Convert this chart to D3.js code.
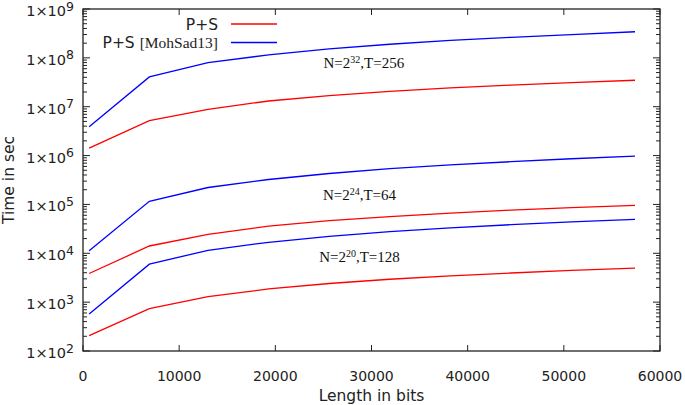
<!DOCTYPE html>
<html>
<head>
<meta charset="utf-8">
<script src="https://cdn.jsdelivr.net/npm/d3@7"></script>
<style>
  html, body { margin: 0; padding: 0; background: #fff; }
  svg { display: block; }
</style>
</head>
<body>
<svg id="chart" width="685" height="405"></svg>
<script>
// ---- data ----
const lengths = [640, 6900, 13000, 19300, 25600, 31900, 38200, 44500, 50800, 57400];

const ps32     = [1.42e6, 5.19e6, 8.85e6, 1.31e7, 1.69e7, 2.06e7, 2.42e7, 2.77e7, 3.12e7, 3.48e7];
const moh32    = [3.9e6, 4.07e7, 8.0e7, 1.15e8, 1.52e8, 1.9e8, 2.27e8, 2.63e8, 3.0e8, 3.42e8];
const ps24     = [3.86e3, 1.41e4, 2.45e4, 3.58e4, 4.64e4, 5.65e4, 6.65e4, 7.64e4, 8.6e4, 9.6e4];
const moh24    = [1.13e4, 1.16e5, 2.22e5, 3.24e5, 4.3e5, 5.4e5, 6.45e5, 7.5e5, 8.6e5, 9.7e5];
const ps20     = [206, 738, 1.3e3, 1.86e3, 2.41e3, 2.94e3, 3.45e3, 3.95e3, 4.46e3, 4.98e3];
const moh20    = [574, 6.0e3, 1.15e4, 1.68e4, 2.22e4, 2.77e4, 3.3e4, 3.85e4, 4.4e4, 4.95e4];

const xTicks = [0, 10000, 20000, 30000, 40000, 50000, 60000];
const yTickExps = [2, 3, 4, 5, 6, 7, 8, 9];

const seriesNames = ["P+S", "P+S [MohSad13]"];
const annotations = [
  {x: 29200, y: 6.2e7, base: "N=2", sup: "32", rest: ",T=256"},
  {x: 28750, y: 1.24e5, base: "N=2", sup: "24", rest: ",T=64"},
  {x: 28750, y: 6.7e3, base: "N=2", sup: "20", rest: ",T=128"}
];

// ---- layout ----
const L = 83, R = 660, T = 9, B = 351;
const RED = "#ff0000", BLUE = "#0000ff", INK = "#222";
const SANS = "'DejaVu Sans', sans-serif";
const SERIF = "'Liberation Serif', 'Times New Roman', serif";

const svg = d3.select("#chart");
const x = d3.scaleLinear().domain([0, 60000]).range([L, R]);
const y = d3.scaleLog().domain([1e2, 1e9]).range([B, T]);

// ---- ticks (inward, mirrored) ----
const tg = svg.append("g").attr("stroke", INK).attr("stroke-width", 1);
xTicks.forEach(v => {
  const px = x(v);
  tg.append("line").attr("x1", px).attr("x2", px).attr("y1", B).attr("y2", B - 6);
  tg.append("line").attr("x1", px).attr("x2", px).attr("y1", T).attr("y2", T + 6);
});
yTickExps.forEach(e => {
  const py = y(Math.pow(10, e));
  tg.append("line").attr("x1", L).attr("x2", L + 7).attr("y1", py).attr("y2", py);
  tg.append("line").attr("x1", R).attr("x2", R - 7).attr("y1", py).attr("y2", py);
  if (e < 9) {
    for (let m = 2; m <= 9; m++) {
      const pm = y(m * Math.pow(10, e));
      tg.append("line").attr("x1", L).attr("x2", L + 4).attr("y1", pm).attr("y2", pm);
      tg.append("line").attr("x1", R).attr("x2", R - 4).attr("y1", pm).attr("y2", pm);
    }
  }
});

// ---- tick labels ----
xTicks.forEach(v => {
  svg.append("text").attr("x", x(v)).attr("y", B + 30)
    .attr("text-anchor", "middle").attr("font-family", SANS).attr("font-size", 14)
    .attr("fill", INK).text(v);
});
yTickExps.forEach(e => {
  const t = svg.append("text").attr("x", L - 9).attr("y", y(Math.pow(10, e)) + 7)
    .attr("text-anchor", "end").attr("font-family", SANS).attr("font-size", 14.5)
    .attr("fill", INK);
  t.append("tspan").text("1×10");
  t.append("tspan").attr("dy", -5.5).attr("font-size", 12.5).text(e);
});

// ---- axis titles ----
svg.append("text").attr("x", (L + R) / 2).attr("y", 401)
  .attr("text-anchor", "middle").attr("font-family", SANS).attr("font-size", 15.5)
  .attr("fill", INK).text("Length in bits");
svg.append("text").attr("transform", `translate(14,${(T + B) / 2}) rotate(-90)`)
  .attr("text-anchor", "middle").attr("font-family", SANS).attr("font-size", 15.5)
  .attr("fill", INK).text("Time in sec");

// ---- lines ----
const line = d3.line().x((d, i) => x(lengths[i])).y(d => y(d));
const series = [
  {v: moh32, c: BLUE}, {v: ps32, c: RED},
  {v: moh24, c: BLUE}, {v: ps24, c: RED},
  {v: moh20, c: BLUE}, {v: ps20, c: RED}
];
series.forEach(s => {
  svg.append("path").datum(s.v).attr("d", line)
    .attr("fill", "none").attr("stroke", s.c).attr("stroke-width", 1.3);
});

// ---- annotations ----
annotations.forEach(a => {
  const t = svg.append("text").attr("x", x(a.x)).attr("y", y(a.y))
    .attr("text-anchor", "middle").attr("font-family", SERIF).attr("font-size", 15)
    .attr("fill", "#111");
  t.append("tspan").text(a.base);
  t.append("tspan").attr("dy", -5).attr("font-size", 10).text(a.sup);
  t.append("tspan").attr("dy", 5).text(a.rest);
});

// ---- legend ----
const lg = svg.append("g");
lg.append("text").attr("x", 218).attr("y", 30).attr("text-anchor", "end")
  .attr("font-family", SANS).attr("font-size", 15.5).attr("fill", INK).text(seriesNames[0]);
lg.append("line").attr("x1", 231).attr("x2", 277).attr("y1", 24).attr("y2", 24)
  .attr("stroke", RED).attr("stroke-width", 1.3);
const t2 = lg.append("text").attr("x", 218).attr("y", 48).attr("text-anchor", "end")
  .attr("font-family", SANS).attr("font-size", 15.5).attr("fill", INK);
t2.append("tspan").text("P+S ");
t2.append("tspan").attr("font-family", SERIF).attr("font-size", 15.5).text("[MohSad13]");
lg.append("line").attr("x1", 231).attr("x2", 277).attr("y1", 42.5).attr("y2", 42.5)
  .attr("stroke", BLUE).attr("stroke-width", 1.3);

// ---- frame ----
svg.append("rect").attr("x", L).attr("y", T).attr("width", R - L).attr("height", B - T)
  .attr("fill", "none").attr("stroke", INK).attr("stroke-width", 1.3);
</script>
</body>
</html>
